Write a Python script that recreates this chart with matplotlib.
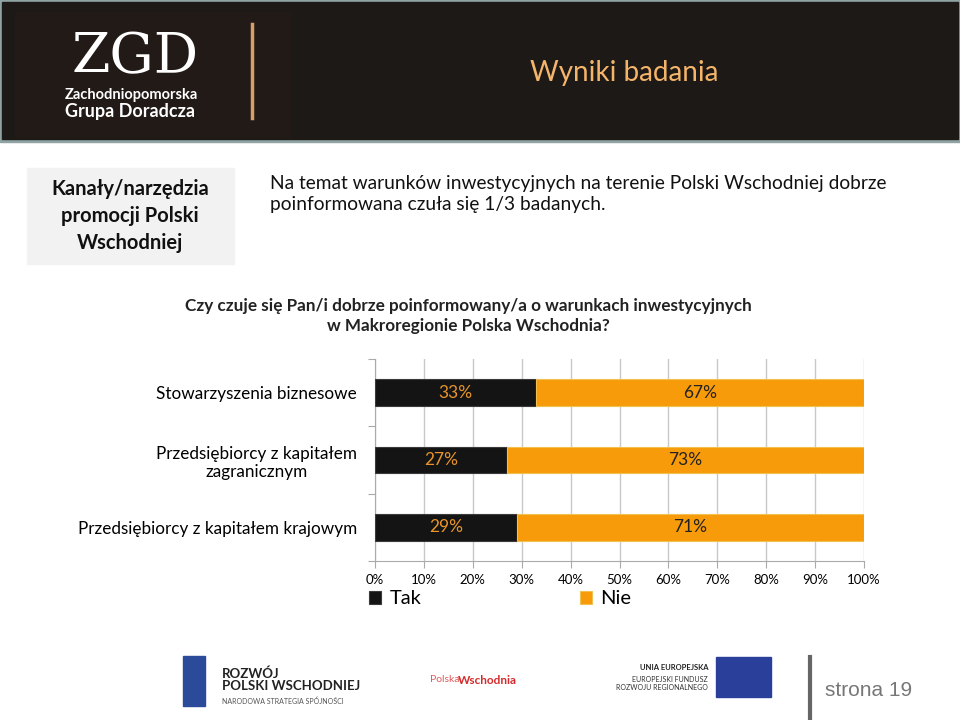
import matplotlib
matplotlib.use("Agg")
import matplotlib.pyplot as plt
from matplotlib.patches import Rectangle

categories = ["Stowarzyszenia biznesowe",
              "Przedsiębiorcy z kapitałem\nzagranicznym",
              "Przedsiębiorcy z kapitałem krajowym"]
tak = [33, 27, 29]
nie = [67, 73, 71]
series_names = ["Tak", "Nie"]
xticks = [0, 10, 20, 30, 40, 50, 60, 70, 80, 90, 100]

plt.rcParams['font.family'] = ['Lato', 'DejaVu Sans']

W, H = 960, 720
fig = plt.figure(figsize=(9.6, 7.2), dpi=100)
fig.patch.set_facecolor('white')

# background layer in pixel coords
bg = fig.add_axes([0, 0, 1, 1])
bg.set_xlim(0, W)
bg.set_ylim(H, 0)
bg.axis('off')

# header band
bg.add_patch(Rectangle((0, 0), W, 142, color='#8fa3a3', zorder=0))
bg.add_patch(Rectangle((2, 2), W - 4, 137, color='#1d1916', zorder=1))
bg.add_patch(Rectangle((15, 12), 275, 125, color='#221a17', zorder=2))
bg.plot([252, 252], [24, 118], color='#d9a066', lw=2.5, zorder=3)
bg.text(135, 58, "ZGD", color='white', fontsize=40, family='DejaVu Serif',
        ha='center', va='center', zorder=3)
bg.text(65, 95, "Zachodniopomorska", color='white', fontsize=10.5,
        weight='bold', ha='left', va='center', zorder=3)
bg.text(65, 112, "Grupa Doradcza", color='white', fontsize=13,
        weight='bold', ha='left', va='center', zorder=3)
bg.text(624, 73, "Wyniki badania", color='#f4b46a', fontsize=20,
        ha='center', va='center', zorder=3)

# left grey box
bg.add_patch(Rectangle((27, 168), 207, 96, color='#f2f2f2', zorder=1))
bg.text(130, 216, "Kanały/narzędzia\npromocji Polski\nWschodniej", color='#111111',
        fontsize=14.5, weight='bold', ha='center', va='center', linespacing=1.45, zorder=2)

bg.text(270, 194, "Na temat warunków inwestycyjnych na terenie Polski Wschodniej dobrze\n"
        "poinformowana czuła się 1/3 badanych.", color='#111111', fontsize=13.8,
        ha='left', va='center', linespacing=1.35)

bg.text(468, 316, "Czy czuje się Pan/i dobrze poinformowany/a o warunkach inwestycyjnych\n"
        "w Makroregionie Polska Wschodnia?", color='#222222', fontsize=12.3,
        weight='bold', ha='center', va='center', linespacing=1.3)

# footer
bg.text(222, 680, "ROZWÓJ\nPOLSKI WSCHODNIEJ", color='#222222', fontsize=9.5, weight='bold',
        ha='left', va='center', linespacing=1.05)
bg.text(222, 697, "NARODOWA STRATEGIA SPÓJNOŚCI", color='#555555', fontsize=5,
        ha='left', va='top')
bg.add_patch(Rectangle((183, 656), 22, 50, color='#2b4a9a', zorder=1))
bg.text(430, 680, "Polska", color='#e05a5a', fontsize=7.5, ha='left', va='center')
bg.text(458, 680, "Wschodnia", color='#d42a2a', fontsize=8.5, weight='bold',
        ha='left', va='center')
bg.text(708, 667, "UNIA EUROPEJSKA", color='#222222', fontsize=5.5, weight='bold',
        ha='right', va='center')
bg.text(708, 676, "EUROPEJSKI FUNDUSZ\nROZWOJU REGIONALNEGO", color='#333333', fontsize=5,
        ha='right', va='top', multialignment='right')
bg.add_patch(Rectangle((716, 657), 55, 40, color='#2a3f9a', zorder=1))
bg.plot([810, 810], [657, 718], color='#666666', lw=3)
bg.text(869, 690, "strona 19", color='#777777', fontsize=15, ha='center',
        va='center', family='Liberation Sans')

# chart
ax = fig.add_axes([375 / W, 1 - 561 / H, (864 - 375) / W, (561 - 359) / H])
ypos = list(range(len(categories)))
ax.barh(ypos, tak, height=0.4, color='#141414', edgecolor='#3a3a3a', lw=0.8,
        label=series_names[0], zorder=3)
ax.barh(ypos, nie, left=tak, height=0.4, color='#f79b0a', edgecolor='#f2c050', lw=0.8,
        label=series_names[1], zorder=3)
for i in ypos:
    ax.text(tak[i] / 2, i, f"{tak[i]}%", color='#e8942a', fontsize=12.5,
            ha='center', va='center', zorder=4)
    ax.text(tak[i] + nie[i] / 2, i, f"{nie[i]}%", color='#222222', fontsize=12.5,
            ha='center', va='center', zorder=4)

ax.set_xlim(0, 100)
ax.set_ylim(len(categories) - 0.5, -0.5)
ax.set_xticks(xticks)
ax.set_xticklabels([f"{t}%" for t in xticks], fontsize=9.5)
ax.set_yticks([i - 0.5 for i in range(len(categories) + 1)])
ax.set_yticklabels([])
ax.set_yticks(ypos, minor=True)
ax.set_yticklabels(categories, minor=True, fontsize=12.3, multialignment='center')
ax.tick_params(axis='y', which='minor', length=0, pad=13)
ax.tick_params(axis='y', which='major', length=5, color='#aaaaaa', direction='out')
ax.tick_params(axis='x', length=5, color='#aaaaaa', pad=4)
ax.grid(axis='x', color='#c8c8c8', lw=1, zorder=0)
for s in ['top', 'right']:
    ax.spines[s].set_visible(False)
ax.spines['left'].set_color('#aaaaaa')
ax.spines['bottom'].set_color('#aaaaaa')

ax.legend(loc='upper left', bbox_to_anchor=(-0.012, -0.145), ncol=2, frameon=False,
          fontsize=14.5, handlelength=0.6, handleheight=0.6, handletextpad=0.4,
          columnspacing=7.9, borderaxespad=0, borderpad=0)

fig.savefig("out.png", dpi=100)
